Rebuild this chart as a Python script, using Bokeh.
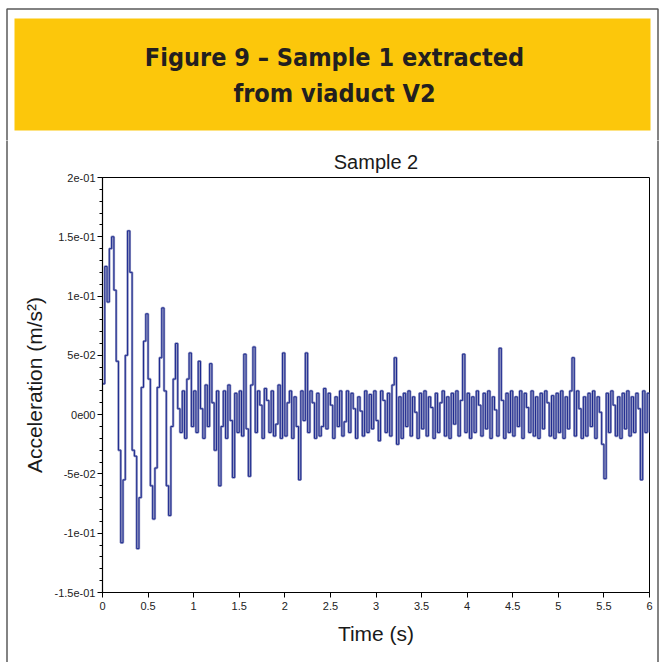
from bokeh.plotting import figure
from bokeh.models import FixedTicker, Range1d
from bokeh.layouts import column, row
from bokeh.core.properties import value
from bokeh.embed import file_html
from bokeh.resources import INLINE

# ---------------- data ----------------
header_lines = ["Figure 9 – Sample 1 extracted", "from viaduct V2"]
chart_title = "Sample 2"
x_label = "Time (s)"
y_label = "Acceleration (m/s²)"

sample_interval = 0.025  # s

acc_00 = [0.026, 0.125, 0.095, 0.14, 0.15, 0.105, 0.045, -0.03, -0.108, -0.055,
          0.05, 0.155, 0.12, -0.03, -0.035, -0.113, -0.07, 0.023, 0.062, 0.085]
acc_05 = [0.03, -0.06, -0.088, -0.045, 0.023, 0.048, 0.09, 0.02, -0.06, -0.085,
          -0.01, 0.03, 0.06, 0.005, -0.015, 0.02, -0.02, 0.03, 0.052, -0.01]
acc_10 = [0.02, -0.015, 0.045, 0.005, -0.02, 0.025, -0.01, 0.043, 0.01, -0.03,
          0.02, -0.06, -0.01, 0.02, -0.02, 0.025, -0.005, -0.053, 0.018, -0.015]
acc_15 = [0.02, -0.018, 0.051, -0.012, -0.052, 0.025, 0.057, -0.015, 0.02, 0.008,
          -0.02, 0.022, 0.012, -0.015, 0.02, -0.018, -0.008, 0.025, -0.02, 0.052]
acc_20 = [-0.018, 0.01, 0.02, -0.02, 0.015, -0.01, -0.055, 0.02, -0.005, 0.052,
          -0.015, 0.02, 0.01, -0.02, 0.018, -0.018, -0.01, 0.022, -0.012, 0.018]
acc_25 = [0.008, -0.02, 0.015, -0.01, 0.02, -0.018, -0.006, 0.02, -0.015, 0.018,
          0.005, -0.02, 0.015, 0.003, -0.018, 0.02, -0.015, 0.017, -0.012, 0.02]
acc_30 = [-0.005, -0.022, 0.02, 0.012, -0.015, 0.018, -0.018, 0.025, 0.048, -0.025,
          0.015, -0.02, 0.018, -0.01, 0.02, -0.018, 0.015, 0.002, -0.02, 0.018]
acc_35 = [-0.012, 0.02, -0.018, 0.015, 0.006, -0.02, 0.018, -0.015, 0.01, 0.02,
          -0.018, 0.015, -0.02, 0.018, -0.008, 0.02, -0.018, 0.012, 0.051, -0.015]
acc_40 = [0.018, -0.02, 0.015, -0.015, 0.02, 0.008, -0.018, 0.018, -0.012, 0.02,
          -0.02, 0.015, 0.004, -0.018, 0.056, 0.012, -0.02, 0.018, -0.015, 0.02]
acc_45 = [-0.018, 0.015, -0.01, 0.02, -0.02, 0.018, 0.006, -0.015, 0.02, -0.018,
          0.015, -0.02, 0.018, -0.012, 0.02, 0.01, -0.018, 0.016, -0.02, 0.018]
acc_50 = [-0.015, 0.02, -0.02, 0.015, -0.012, 0.02, 0.048, -0.018, 0.02, 0.005,
          -0.02, 0.015, -0.018, 0.018, -0.01, 0.02, -0.02, 0.015, 0.002, -0.025]
acc_55 = [-0.054, 0.018, -0.015, 0.02, 0.008, -0.018, 0.015, -0.02, 0.018, -0.012,
          0.02, -0.018, 0.015, -0.015, 0.018, 0.005, -0.055, 0.02, -0.015, 0.018,
          -0.015]

acceleration = (acc_00 + acc_05 + acc_10 + acc_15 + acc_20 + acc_25 +
                acc_30 + acc_35 + acc_40 + acc_45 + acc_50 + acc_55)
time = [round(i * sample_interval, 3) for i in range(len(acceleration))]

x_ticks = [0, 0.5, 1, 1.5, 2, 2.5, 3, 3.5, 4, 4.5, 5, 5.5, 6]
x_tick_labels = ["0", "0.5", "1", "1.5", "2", "2.5", "3", "3.5", "4", "4.5", "5", "5.5", "6"]
y_ticks = [-0.15, -0.1, -0.05, 0.0, 0.05, 0.1, 0.15, 0.2]
y_tick_labels = ["-1.5e-01", "-1e-01", "-5e-02", "0e00", "5e-02", "1e-01", "1.5e-01", "2e-01"]

BORDER = "#5a5a5a"


def bare(width, height, xr, yr):
    f = figure(width=width, height=height, output_backend="svg", toolbar_location=None,
               x_range=xr, y_range=yr, x_axis_location=None, y_axis_location=None,
               min_border=0)
    f.title = None
    f.frame_align = False
    f.outline_line_color = None
    f.grid.visible = False
    f.background_fill_color = "white"
    f.border_fill_color = "white"
    return f


# ---------------- header ----------------
hdr = bare(660, 140, Range1d(0, 660), Range1d(140, 0))
hdr.quad(left=[14], right=[650], top=[18], bottom=[130],
         fill_color="#FCC70B", line_color=None)
hdr.multi_line(xs=[[6.5, 6.5, 657.5, 657.5]], ys=[[141, 8.5, 8.5, 141]],
               line_color=BORDER, line_width=1.5)
hdr.text(x=[334, 334], y=[57, 93], text=header_lines,
         text_align="center", text_baseline="middle",
         text_font=value("DejaVu Sans Condensed"), text_font_style="bold",
         text_font_size="25px", text_color="#231f20")

# side borders
left_b = bare(8, 522, Range1d(0, 8), Range1d(0, 522))
left_b.segment(x0=[6.5], y0=[-2], x1=[6.5], y1=[524], line_color=BORDER, line_width=1.5)
right_b = bare(6, 522, Range1d(654, 660), Range1d(0, 522))
right_b.segment(x0=[657.5], y0=[-2], x1=[657.5], y1=[524], line_color=BORDER, line_width=1.5)

# ---------------- chart ----------------
p = figure(width=646, height=522, output_backend="svg", toolbar_location=None,
           x_range=Range1d(0, 6), y_range=Range1d(-0.15, 0.2),
           min_border_left=94, min_border_right=5, min_border_top=37, min_border_bottom=70)
p.frame_align = False
p.title.text = chart_title
p.title.align = "center"
p.title.text_font = "Liberation Sans"
p.title.text_font_style = "normal"
p.title.text_font_size = "20px"
p.title.text_color = "#1a1a1a"
p.title.standoff = 9
p.background_fill_color = "white"
p.border_fill_color = "white"
p.grid.visible = False
p.outline_line_color = "black"
p.outline_line_width = 1

# signal
p.step(time, acceleration, mode="after", line_color="#7a80b5", line_width=2.4, line_alpha=0.8)
p.step(time, acceleration, mode="after", line_color="#1d2a8f", line_width=1.0)

# axes
xa = p.xaxis[0]
xa.ticker = FixedTicker(ticks=x_ticks, minor_ticks=[])
xa.major_label_overrides = {t: s for t, s in zip(x_ticks, x_tick_labels)}
ya = p.yaxis[0]
y_minor = [round(-0.15 + 0.01 * k, 2) for k in range(36)]
ya.ticker = FixedTicker(ticks=y_ticks, minor_ticks=y_minor)
ya.major_label_overrides = {t: s for t, s in zip(y_ticks, y_tick_labels)}

for ax in (xa, ya):
    ax.axis_line_color = "black"
    ax.axis_line_width = 1.2
    ax.major_tick_line_color = "black"
    ax.minor_tick_line_color = "black"
    ax.major_tick_in = 0
    ax.major_tick_out = 5
    ax.minor_tick_in = 0
    ax.minor_tick_out = 3
    ax.major_label_text_font = "Liberation Sans"
    ax.major_label_text_font_size = "11px"
    ax.major_label_text_color = "#222222"
    ax.axis_label_text_font = "Liberation Sans"
    ax.axis_label_text_font_size = "21px"
    ax.axis_label_text_font_style = "normal"
    ax.axis_label_text_color = "#1a1a1a"

xa.major_label_standoff = 4
ya.major_label_standoff = 2
xa.axis_label = x_label
xa.axis_label_standoff = 9
ya.axis_label = y_label
ya.axis_label_standoff = 6

layout = column(hdr, row(left_b, p, right_b))
open("out.html", "w").write(file_html(layout, INLINE))
